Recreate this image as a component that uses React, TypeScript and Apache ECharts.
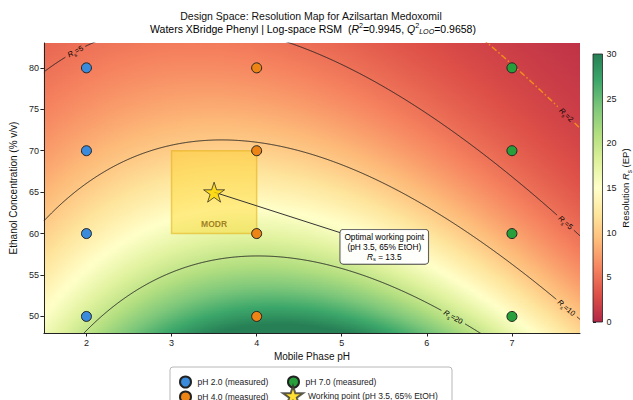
import React, { useEffect, useRef } from "react";
import * as echarts from "echarts";

// ---------- data ----------
const titleLine1 = "Design Space: Resolution Map for Azilsartan Medoxomil";
const titleLine2Prefix = "Waters XBridge Phenyl | Log-space RSM  (";
const r2Value = "0.9945";
const q2Value = "0.9658";
const xAxisTitle = "Mobile Phase pH";
const yAxisTitle = "Ethanol Concentration (% v/v)";

const phLevels = [2, 4, 7];
const ethanolLevels = [50, 60, 70, 80];
const measuredNames = ["pH 2.0 (measured)", "pH 4.0 (measured)", "pH 7.0 (measured)"];
const measuredColors = ["#3a8bdb", "#ec8416", "#27a03b"];

const workingPoint = [3.5, 65];
const workingRs = 13.5;
const workingName = "Working point (pH 3.5, 65% EtOH)";
const modrPH = [3, 4];
const modrEtOH = [60, 70];
const annotAnchor = [5.5, 58.4];

// log-space RSM: ln Rs = b0 + b1*pH + b2*E + b11*pH^2 + b22*E^2 + b12*pH*E
const rsmCoef = [3.0095, 0.9796, -0.01962, -0.085, -0.00007907, -0.005185];

const contourLevels = [5, 10, 20];
const criticalLevel = 2;
// pH positions of the inline contour labels
const contourLabelPH: Record<string, number[]> = { "5": [1.87, 7.63], "10": [7.64], "20": [6.31], "2": [7.64] };

const xTicks = [2, 3, 4, 5, 6, 7];
const yTicks = [50, 55, 60, 65, 70, 75, 80];
const X_RANGE = [1.5, 7.8];
const Y_RANGE = [48, 83];
const RS_RANGE = [0, 30];

const RDYLGN = ["#a50026", "#d73027", "#f46d43", "#fdae61", "#fee08b", "#ffffbf", "#d9ef8b", "#a6d96a", "#66bd63", "#1a9850", "#006837"];

// ---------- layout / style ----------
const FONT = "'Liberation Sans', Arial, Helvetica, sans-serif";
const GRID = { left: 42, top: 43, width: 538, height: 290 };
const CBAR = { left: 593, top: 54, width: 14, height: 268 };
const SX = GRID.width / (X_RANGE[1] - X_RANGE[0]);
const SY = GRID.height / (Y_RANGE[1] - Y_RANGE[0]);
const FILL_ALPHA = 0.85;

function hexToRgb(h: string) {
  return [parseInt(h.slice(1, 3), 16), parseInt(h.slice(3, 5), 16), parseInt(h.slice(5, 7), 16)];
}
const CMAP_RGB = RDYLGN.map(hexToRgb);
function cmap(t: number) {
  const tt = Math.max(0, Math.min(1, t)) * (CMAP_RGB.length - 1);
  const i = Math.min(CMAP_RGB.length - 2, Math.floor(tt));
  const f = tt - i;
  const a = CMAP_RGB[i], b = CMAP_RGB[i + 1];
  const c = [0, 1, 2].map((k) => {
    const v = a[k] + (b[k] - a[k]) * f;
    return Math.round(v * FILL_ALPHA + 255 * (1 - FILL_ALPHA));
  });
  return `rgb(${c[0]},${c[1]},${c[2]})`;
}
function rsColor(rs: number) {
  return cmap((rs - RS_RANGE[0]) / (RS_RANGE[1] - RS_RANGE[0]));
}
function lnRs(u: number, v: number) {
  const [b0, b1, b2, b11, b22, b12] = rsmCoef;
  return b0 + b1 * u + b2 * v + b11 * u * u + b22 * v * v + b12 * u * v;
}
function contourV(u: number, level: number) {
  const c = Math.log(level);
  const [b0, b1, b2, b11, b22, b12] = rsmCoef;
  const A = b22, B = b2 + b12 * u, C = b0 + b1 * u + b11 * u * u - c;
  if (Math.abs(A) < 1e-12) return -C / B;
  const disc = B * B - 4 * A * C;
  if (disc < 0) return NaN;
  const q = -0.5 * (B + (B >= 0 ? 1 : -1) * Math.sqrt(disc));
  return C / q;
}
function contourSegments(level: number, labelUs: number[], gapPx: number) {
  const segs: number[][][] = [];
  let cur: number[][] = [];
  const N = 700;
  for (let i = 0; i <= N; i++) {
    const u = X_RANGE[0] + (i * (X_RANGE[1] - X_RANGE[0])) / N;
    const v = contourV(u, level);
    const near = labelUs.some((lu) => {
      const lv = contourV(lu, level);
      return Math.hypot((u - lu) * SX, (v - lv) * SY) < gapPx;
    });
    if (!isFinite(v) || near) {
      if (cur.length > 1) segs.push(cur);
      cur = [];
    } else cur.push([u, v]);
  }
  if (cur.length > 1) segs.push(cur);
  return segs;
}

const starPath =
  "path://" +
  Array.from({ length: 10 }, (_, i) => {
    const a = -Math.PI / 2 + (i * Math.PI) / 5;
    const r = i % 2 === 0 ? 1 : 0.382;
    return (i === 0 ? "M" : "L") + (r * Math.cos(a)).toFixed(4) + "," + (r * Math.sin(a)).toFixed(4);
  }).join(" ") +
  " Z";

const subRich = (size: number) => ({
  n: { fontSize: size, lineHeight: size + 3, fontFamily: FONT, color: "#111" },
  i: { fontSize: size, lineHeight: size + 3, fontStyle: "italic", fontFamily: FONT, color: "#111" },
  s: { fontSize: size * 0.68, lineHeight: size * 0.7, verticalAlign: "bottom", fontFamily: FONT, color: "#111" },
  sup: { fontSize: size * 0.68, lineHeight: size * 0.7, verticalAlign: "top", fontFamily: FONT, color: "#111" },
  subi: { fontSize: size * 0.68, lineHeight: size * 0.7, verticalAlign: "bottom", fontStyle: "italic", fontFamily: FONT, color: "#111" },
});

function buildOption() {
  const series: any[] = [];

  // surface
  const N_ROWS = 180;
  const N_STOPS = 70;
  const dv = (Y_RANGE[1] - Y_RANGE[0]) / N_ROWS;
  const rows = Array.from({ length: N_ROWS }, (_, i) => [X_RANGE[0], Y_RANGE[0] + i * dv, X_RANGE[1], Y_RANGE[0] + (i + 1) * dv]);
  series.push({
    type: "custom",
    name: "surface",
    silent: true,
    clip: true,
    z: 0,
    encode: { x: [0, 2], y: [1, 3] },
    data: rows,
    renderItem: (_p: any, api: any) => {
      const u0 = api.value(0), v0 = api.value(1), u1 = api.value(2), v1 = api.value(3);
      const tl = api.coord([u0, v1]);
      const br = api.coord([u1, v0]);
      const vm = (v0 + v1) / 2;
      const stops = [];
      for (let k = 0; k <= N_STOPS; k++) {
        const u = u0 + (k * (u1 - u0)) / N_STOPS;
        stops.push({ offset: k / N_STOPS, color: rsColor(Math.exp(lnRs(u, vm))) });
      }
      return {
        type: "rect",
        shape: { x: tl[0], y: tl[1] - 0.6, width: br[0] - tl[0], height: br[1] - tl[1] + 1.2 },
        style: { fill: { type: "linear", x: 0, y: 0, x2: 1, y2: 0, colorStops: stops, global: false } },
      };
    },
  });

  // contour lines
  contourLevels.forEach((lvl) => {
    const gap = lvl >= 10 ? 13 : 11;
    contourSegments(lvl, contourLabelPH[String(lvl)] || [], gap).forEach((seg) => {
      series.push({
        type: "line",
        silent: true,
        clip: true,
        z: 2,
        showSymbol: false,
        symbol: "none",
        data: seg,
        lineStyle: { color: "#222", width: 0.9 },
      });
    });
  });
  contourSegments(criticalLevel, contourLabelPH[String(criticalLevel)], 11).forEach((seg) => {
    series.push({
      type: "line",
      silent: true,
      clip: true,
      z: 2,
      showSymbol: false,
      symbol: "none",
      data: seg,
      lineStyle: { color: "#f08c1e", width: 1.5, type: [6, 2.5, 1.5, 2.5] },
    });
  });

  // contour labels
  const labelData: number[][] = [];
  [...contourLevels, criticalLevel].forEach((lvl) => {
    (contourLabelPH[String(lvl)] || []).forEach((u) => labelData.push([u, contourV(u, lvl), lvl]));
  });
  series.push({
    type: "custom",
    silent: true,
    clip: true,
    z: 3,
    data: labelData,
    renderItem: (_p: any, api: any) => {
      const u = api.value(0), lvl = api.value(2);
      const v = contourV(u, lvl);
      const p = api.coord([u, v]);
      const pa = api.coord([u - 0.03, contourV(u - 0.03, lvl)]);
      const pb = api.coord([u + 0.03, contourV(u + 0.03, lvl)]);
      let ang = -Math.atan2(pb[1] - pa[1], pb[0] - pa[0]);
      if (ang > Math.PI / 2) ang -= Math.PI;
      if (ang < -Math.PI / 2) ang += Math.PI;
      const col = lvl === criticalLevel ? "#c86a10" : "#222";
      const rich: any = subRich(7.5);
      Object.keys(rich).forEach((k) => (rich[k] = { ...rich[k], color: col }));
      return {
        type: "text",
        x: p[0],
        y: p[1],
        rotation: ang,
        style: {
          text: `{i|R}{s|s}{n|=${lvl}}`,
          rich,
          align: "center",
          verticalAlign: "middle",
        },
      };
    },
  });

  // MODR region
  series.push({
    type: "custom",
    silent: true,
    z: 4,
    encode: { x: [0, 2], y: [1, 3] },
    data: [[modrPH[0], modrEtOH[0], modrPH[1], modrEtOH[1]]],
    renderItem: (_p: any, api: any) => {
      const tl = api.coord([api.value(0), api.value(3)]);
      const br = api.coord([api.value(2), api.value(1)]);
      return {
        type: "group",
        children: [
          {
            type: "rect",
            shape: { x: tl[0], y: tl[1], width: br[0] - tl[0], height: br[1] - tl[1] },
            style: { fill: "rgba(255,208,20,0.38)", stroke: "rgba(225,175,20,0.55)", lineWidth: 1.5 },
          },
          {
            type: "text",
            x: (tl[0] + br[0]) / 2,
            y: br[1] - 10,
            style: { text: "MODR", fontSize: 8.5, fontWeight: "bold", fontFamily: FONT, fill: "rgba(150,115,20,0.9)", align: "center", verticalAlign: "middle" },
          },
        ],
      };
    },
  });

  // annotation line + box
  series.push({
    type: "custom",
    silent: true,
    z: 5,
    data: [[workingPoint[0], workingPoint[1], annotAnchor[0], annotAnchor[1]]],
    encode: { x: [0, 2], y: [1, 3] },
    renderItem: (_p: any, api: any) => {
      const a = api.coord([api.value(0), api.value(1)]);
      const b = api.coord([api.value(2), api.value(3)]);
      const rich: any = subRich(8.3);
      rich.n.lineHeight = 10;
      rich.i.lineHeight = 10;
      return {
        type: "group",
        children: [
          { type: "line", shape: { x1: a[0], y1: a[1], x2: b[0], y2: b[1] }, style: { stroke: "#333", lineWidth: 1 } },
          {
            type: "text",
            x: b[0],
            y: b[1],
            z2: 10,
            style: {
              text: `{n|Optimal working point}\n{n|(pH ${workingPoint[0]}, ${workingPoint[1]}% EtOH)}\n{i|R}{s|s}{n| = ${workingRs}}`,
              rich,
              align: "center",
              verticalAlign: "middle",
              backgroundColor: "rgba(255,255,255,0.95)",
              borderColor: "#444",
              borderWidth: 0.9,
              borderRadius: 3,
              padding: [2, 4, 2, 4],
            },
          },
        ],
      };
    },
  });

  // measured points
  phLevels.forEach((ph, i) => {
    series.push({
      type: "scatter",
      name: measuredNames[i],
      z: 6,
      symbol: "circle",
      symbolSize: 10,
      data: ethanolLevels.map((e) => [ph, e]),
      itemStyle: { color: measuredColors[i], borderColor: "#222", borderWidth: 1, opacity: 1 },
    });
  });

  // working point star
  series.push({
    type: "scatter",
    name: workingName,
    z: 7,
    symbol: starPath,
    symbolSize: 21,
    symbolKeepAspect: true,
    data: [workingPoint],
    itemStyle: { color: "#FFD700", borderColor: "#333", borderWidth: 1 },
  });

  // colorbar
  series.push({
    type: "custom",
    silent: true,
    xAxisIndex: 1,
    yAxisIndex: 1,
    data: [[0, RS_RANGE[0], 1, RS_RANGE[1]]],
    encode: { x: [0, 2], y: [1, 3] },
    renderItem: (_p: any, api: any) => {
      const tl = api.coord([api.value(0), api.value(3)]);
      const br = api.coord([api.value(2), api.value(1)]);
      const stops = [];
      for (let k = 0; k <= 40; k++) stops.push({ offset: k / 40, color: cmap(1 - k / 40) });
      return {
        type: "group",
        children: [
          {
            type: "rect",
            shape: { x: tl[0], y: tl[1], width: br[0] - tl[0], height: br[1] - tl[1] },
            style: { fill: { type: "linear", x: 0, y: 0, x2: 0, y2: 1, colorStops: stops, global: false } },
          },
          {
            type: "rect",
            shape: { x: tl[0], y: tl[1], width: br[0] - tl[0], height: br[1] - tl[1] },
            style: { fill: "none", stroke: "#222", lineWidth: 0.8 },
          },
        ],
      };
    },
  });

  const axisLabelStyle = { fontSize: 9, color: "#222", fontFamily: FONT };

  const legendCommon = {
    orient: "vertical",
    itemGap: 2,
    itemWidth: 14,
    itemHeight: 11,
    height: 80,
    width: 200,
    selectedMode: false,
    padding: 0,
    textStyle: { fontSize: 8.5, color: "#222", fontFamily: FONT, padding: [0, 0, 0, 0] },
  };

  return {
    animation: false,
    backgroundColor: "#ffffff",
    textStyle: { fontFamily: FONT },
    grid: [
      { left: GRID.left, top: GRID.top, width: GRID.width, height: GRID.height, containLabel: false },
      { left: CBAR.left, top: CBAR.top, width: CBAR.width, height: CBAR.height, containLabel: false },
    ],
    xAxis: [
      {
        type: "value",
        gridIndex: 0,
        min: X_RANGE[0],
        max: X_RANGE[1],
        name: xAxisTitle,
        nameLocation: "middle",
        nameGap: 17,
        nameTextStyle: { fontSize: 10, color: "#111", fontFamily: FONT },
        axisLine: { show: true, lineStyle: { color: "#222", width: 1 } },
        axisTick: { show: true, length: 3.5, lineStyle: { color: "#222" }, customValues: xTicks },
        axisLabel: { ...axisLabelStyle, margin: 5, customValues: xTicks },
        splitLine: { show: false },
      },
      { type: "value", gridIndex: 1, min: 0, max: 1, show: false },
    ],
    yAxis: [
      {
        type: "value",
        gridIndex: 0,
        min: Y_RANGE[0],
        max: Y_RANGE[1],
        name: yAxisTitle,
        nameLocation: "middle",
        nameGap: 15,
        nameTextStyle: { fontSize: 10, color: "#111", fontFamily: FONT },
        axisLine: { show: true, lineStyle: { color: "#222", width: 1 } },
        axisTick: { show: true, length: 3.5, lineStyle: { color: "#222" }, customValues: yTicks },
        axisLabel: { ...axisLabelStyle, margin: 5, customValues: yTicks },
        splitLine: { show: false },
      },
      {
        type: "value",
        gridIndex: 1,
        position: "right",
        min: RS_RANGE[0],
        max: RS_RANGE[1],
        interval: 5,
        name: "{n|Resolution }{i|R}{s|s}{n| (EP)}",
        nameLocation: "middle",
        nameRotate: 90,
        nameGap: 17,
        nameTextStyle: { rich: subRich(9.5) },
        axisLine: { show: false },
        axisTick: { show: true, length: 3, lineStyle: { color: "#222" } },
        axisLabel: { ...axisLabelStyle, margin: 4 },
        splitLine: { show: false },
      },
    ],
    legend: [
      { ...legendCommon, left: 179, top: 375.5, data: [measuredNames[0], measuredNames[1]] },
      { ...legendCommon, left: 287, top: 375.5, data: [measuredNames[2]] },
      { ...legendCommon, left: 282, top: 385, itemWidth: 20, itemHeight: 19, data: [workingName] },
    ],
    graphic: [
      {
        type: "rect",
        z: -1,
        shape: { x: 170, y: 367, width: 282, height: 42, r: 3 },
        style: { fill: "rgba(255,255,255,0.9)", stroke: "#b8b8b8", lineWidth: 1 },
      },
      {
        type: "text",
        x: 311,
        y: 16,
        style: { text: titleLine1, fontSize: 10.5, fontFamily: FONT, fill: "#111", align: "center", verticalAlign: "middle" },
      },
      {
        type: "text",
        x: 313,
        y: 29,
        style: {
          text: `{n|${titleLine2Prefix}}{i|R}{sup|2}{n|=${r2Value}, }{i|Q}{sup|2}{subi|LOO}{n|=${q2Value})}`,
          rich: subRich(10.5),
          align: "center",
          verticalAlign: "middle",
        },
      },
    ],
    series,
  };
}

export default function App() {
  const ref = useRef<HTMLDivElement>(null);
  useEffect(() => {
    if (!ref.current) return;
    const chart = echarts.init(ref.current, null, { renderer: "svg" });
    chart.setOption(buildOption() as any);
    return () => chart.dispose();
  }, []);
  return (
    <div
      ref={ref}
      style={{ position: "fixed", left: 0, top: 0, width: 633, height: 400, background: "#fff" }}
    />
  );
}
